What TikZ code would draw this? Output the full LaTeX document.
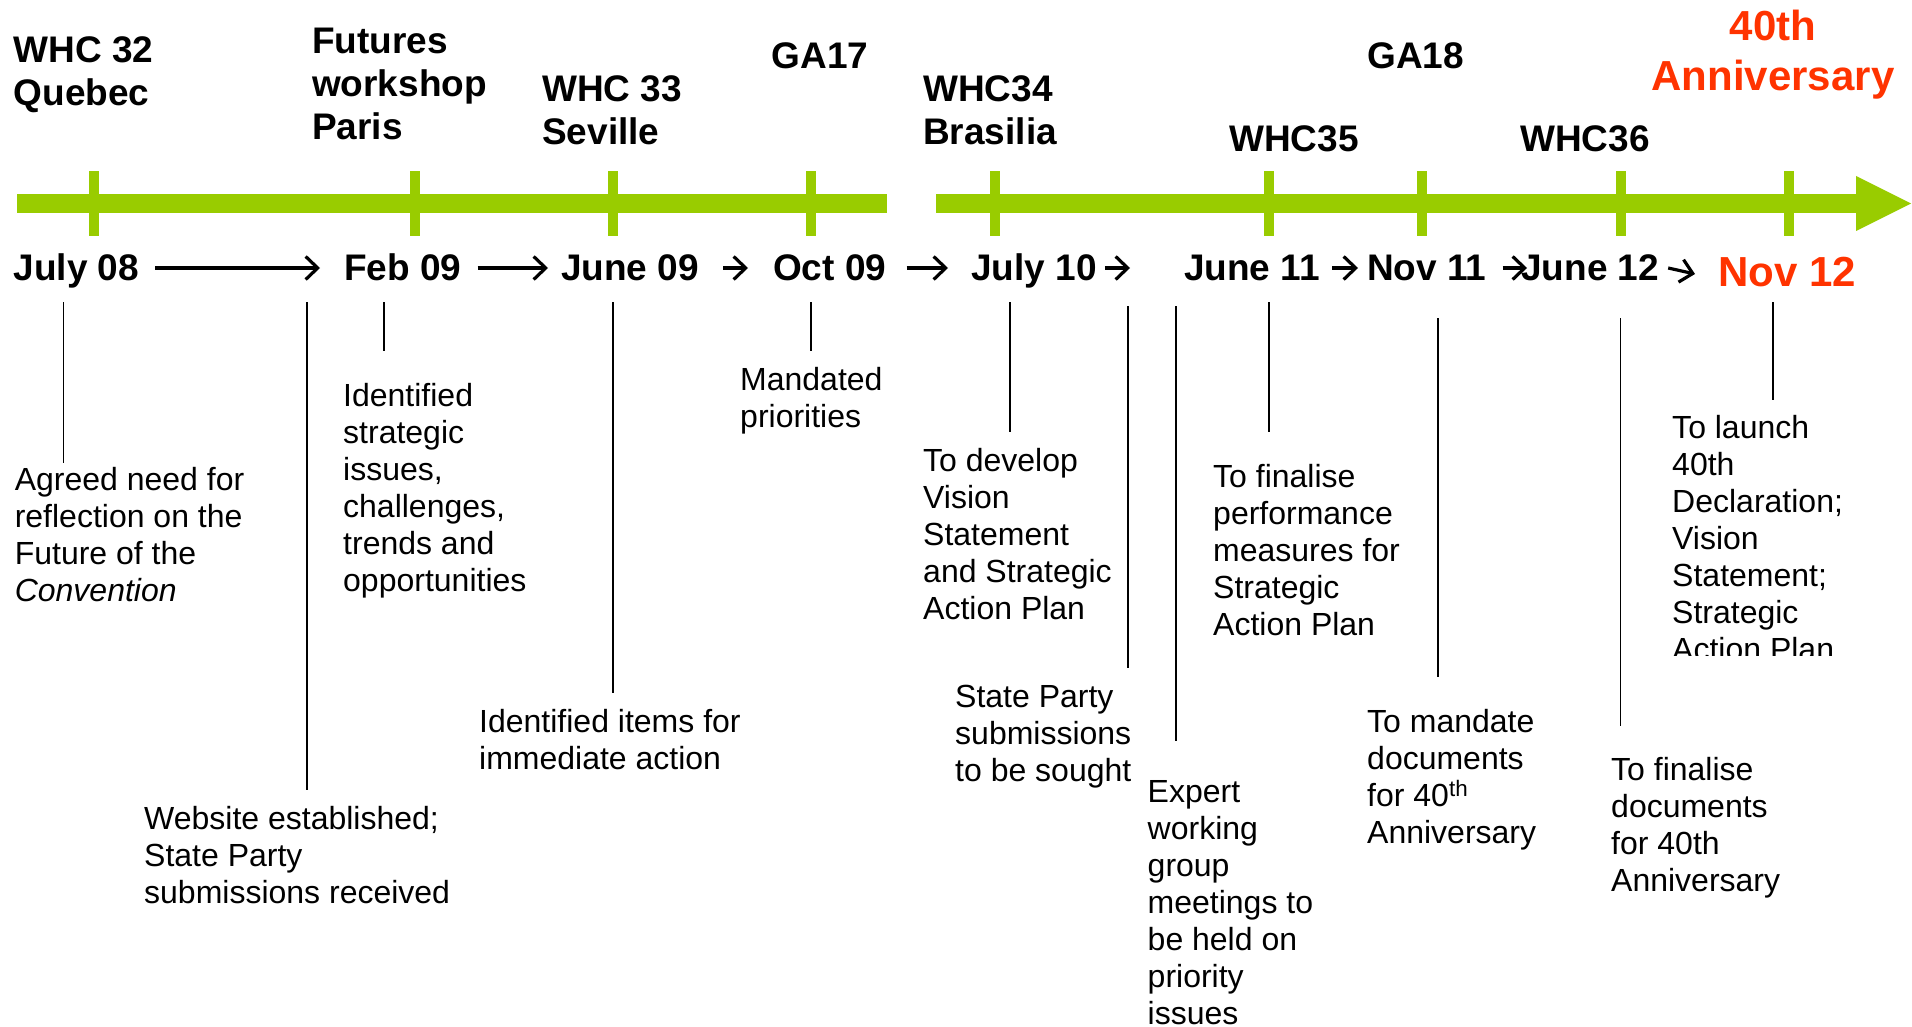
\documentclass[tikz,border=0pt]{standalone}
\usepackage{fontspec}
\setmainfont{Liberation Sans}
\usetikzlibrary{arrows.meta}
\definecolor{tlgreen}{RGB}{153,204,0}
\definecolor{tlred}{RGB}{255,51,0}
\begin{document}
\begin{tikzpicture}[x=1pt,y=-1pt,
  hdr/.style={anchor=base west, inner sep=0pt, align=left, font=\fontsize{37}{43}\selectfont\bfseries},
  datelbl/.style={anchor=base west, inner sep=0pt, font=\fontsize{37}{43}\selectfont\bfseries},
  body/.style={anchor=base west, inner sep=0pt, align=left, font=\fontsize{32}{37}\selectfont},
  conn/.style={line width=1.5pt, black},
  arr/.style={line width=3.2pt, -{Straight Barb[length=12pt,width=23pt,line width=3.2pt]}},
  greenbar/.style={fill=tlgreen}]
\useasboundingbox (0,0) rectangle (1912,1027);

% green timeline bar
\fill[greenbar] (17,194) rectangle (887,213);
\fill[greenbar] (936,194) rectangle (1857,213);
\fill[greenbar] (1856,176) -- (1911,203.5) -- (1856,231) -- cycle;
\foreach \x in {94,414.5,613,811,995,1269,1422,1621,1789}
  \fill[greenbar] (\x-5,171) rectangle (\x+5,236);

% headers (base anchor = baseline of last line)
\node[hdr] (h1) at (13.5,106) {WHC 32\\Quebec};
\node[hdr] (h2) at (312,140) {Futures\\workshop\\Paris};
\node[hdr] (h3) at (542,145) {WHC 33\\Seville};
\node[hdr] (h4) at (771.5,69) {GA17};
\node[hdr] (h5) at (923,145) {WHC34\\Brasilia};
\node[hdr] (h6) at (1367,69) {GA18};
\node[hdr] (h7) at (1229,152) {WHC35};
\node[hdr] (h8) at (1520,152) {WHC36};
\node[anchor=base, inner sep=0pt, align=center, text=tlred,
      font=\fontsize{42}{50}\selectfont\bfseries] (h9) at (1773,91) {40th\\Anniversary};

% dates
\node[datelbl] (d1) at (13.5,280) {July 08};
\node[datelbl] (d2) at (344,280) {Feb 09};
\node[datelbl] (d3) at (561,280) {June 09};
\node[datelbl] (d4) at (773,280) {Oct 09};
\node[datelbl] (d5) at (971,280) {July 10};
\node[datelbl] (d6) at (1184,280) {June 11};
\node[datelbl] (d7) at (1367,280) {Nov 11};
\node[datelbl] (d8) at (1521,280) {June 12};
\node[datelbl, text=tlred, font=\fontsize{42}{50}\selectfont\bfseries] (d9) at (1718,286) {Nov 12};

% arrows between dates
\draw[arr] ([xshift=16pt,yshift=12pt]d1.base east) -- ([xshift=-24pt,yshift=12pt]d2.base west);
\draw[arr] ([xshift=16pt,yshift=12pt]d2.base east) -- ([xshift=-13pt,yshift=12pt]d3.base west);
\draw[arr] ([xshift=24pt,yshift=12pt]d3.base east) -- ([xshift=-25pt,yshift=12pt]d4.base west);
\draw[arr] ([xshift=20pt,yshift=12pt]d4.base east) -- ([xshift=-23pt,yshift=12pt]d5.base west);
\draw[arr] ([xshift=8pt,yshift=12pt]d5.base east) -- ([xshift=-54pt,yshift=12pt]d6.base west);
\draw[arr] ([xshift=12pt,yshift=12pt]d6.base east) -- ([xshift=-9pt,yshift=12pt]d7.base west);
\draw[arr] ([xshift=16pt,yshift=12pt]d7.base east) -- ([xshift=6pt,yshift=12pt]d8.base west);
\draw[arr] ([xshift=9pt,yshift=12pt]d8.base east) -- ([xshift=-23pt,yshift=12pt]d9.base west);

% descriptions (base anchor = baseline of last line)
\node[body] (t1) at (14.6,601) {Agreed need for\\reflection on the\\Future of the\\\textit{Convention}};
\node[body] (t2) at (144,903) {Website established;\\State Party\\submissions received};
\node[body] (t3) at (343,591) {Identified\\strategic\\issues,\\challenges,\\trends and\\opportunities};
\node[body] (t4) at (479,769) {Identified items for\\immediate action};
\node[body] (t5) at (740,427) {Mandated\\priorities};
\node[body] (t6) at (923,619) {To develop\\Vision\\Statement\\and Strategic\\Action Plan};
\node[body] (t7) at (955,781) {State Party\\submissions\\to be sought};
\node[body] (t8) at (1147.5,1024) {Expert\\working\\group\\meetings to\\be held on\\priority\\issues};
\node[body] (t9) at (1213,635) {To finalise\\performance\\measures for\\Strategic\\Action Plan};
\node[body] (t10) at (1367,843) {To mandate\\documents\\for 40\textsuperscript{th}\\Anniversary};
\node[body] (t11) at (1611,891) {To finalise\\documents\\for 40th\\Anniversary};
\begin{scope}
\clip (1600,300) rectangle (1912,655);
\node[body] (t12) at (1672,660) {To launch\\40th\\Declaration;\\Vision\\Statement;\\Strategic\\Action Plan};
\end{scope}

% connector lines
\draw[conn] (63.4,302) -- (63.4,463);
\draw[conn] (307,302) -- (307,790);
\draw[conn] (384,302) -- (384,351);
\draw[conn] (613,302) -- (613,693);
\draw[conn] (811,302) -- (811,351);
\draw[conn] (1010,302) -- (1010,432);
\draw[conn] (1128,306) -- (1128,668);
\draw[conn] (1176,306) -- (1176,741);
\draw[conn] (1269,302) -- (1269,432);
\draw[conn] (1438,318) -- (1438,677);
\draw[conn] (1620.6,318) -- (1620.6,726);
\draw[conn] (1773,302) -- (1773,400);
\end{tikzpicture}
\end{document}
